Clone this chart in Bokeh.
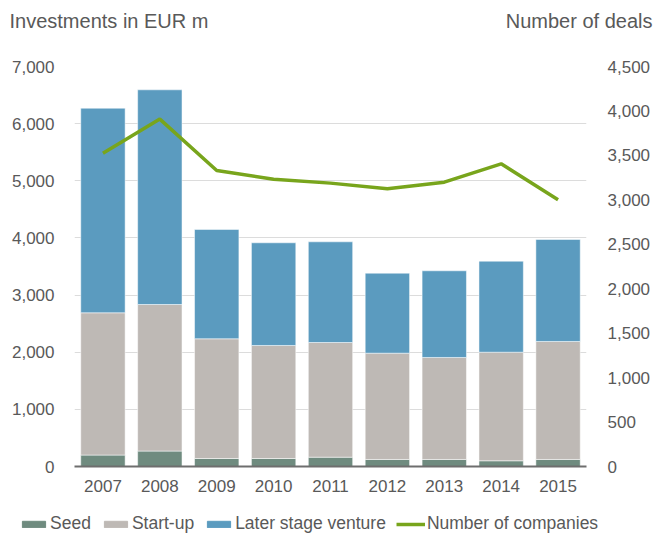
from bokeh.plotting import figure
from bokeh.layouts import column
from bokeh.models import (Range1d, LinearAxis, FixedTicker, NumeralTickFormatter,
                          Label, Legend, LegendItem, ColumnDataSource, FactorRange)
from bokeh.embed import file_html
from bokeh.resources import INLINE

years = ["2007", "2008", "2009", "2010", "2011", "2012", "2013", "2014", "2015"]
seed = [200, 270, 140, 140, 163, 123, 123, 100, 123]
startup = [2490, 2565, 2095, 1978, 2007, 1860, 1785, 1900, 2065]
later = [3580, 3757, 1913, 1797, 1762, 1400, 1517, 1593, 1785]
companies = [3525, 3908, 3330, 3232, 3188, 3124, 3199, 3405, 3000]

left_ticks = [0, 1000, 2000, 3000, 4000, 5000, 6000, 7000]
right_ticks = [0, 500, 1000, 1500, 2000, 2500, 3000, 3500, 4000, 4500]
series_names = ["Seed", "Start-up", "Later stage venture", "Number of companies"]

FONT = "Liberation Sans"
TXT = "#595959"
W = 653
colors = ["#6F8B7F", "#BEB9B5", "#5B9BBF"]
LINE_C = "#78A51C"

src = ColumnDataSource(dict(
    years=years, seed=seed, startup=startup, later=later, companies=companies,
))

# ---------- header with the two axis titles ----------
hdr = figure(width=W, height=40, x_range=Range1d(0, W), y_range=Range1d(0, 40),
             x_axis_type=None, y_axis_type=None, min_border=0,
             output_backend="svg", toolbar_location=None)
hdr.frame_align = False
hdr.outline_line_color = None
hdr.grid.visible = False
hdr.add_layout(Label(x=9, y=20, text="Investments in EUR m", text_font=FONT,
                     text_font_size="20px", text_color=TXT, text_align="left",
                     text_baseline="alphabetic"))
hdr.add_layout(Label(x=652, y=20, text="Number of deals", text_font=FONT,
                     text_font_size="20px", text_color=TXT, text_align="right",
                     text_baseline="alphabetic"))

# ---------- main chart ----------
p = figure(x_range=FactorRange(*years, range_padding=0), y_range=Range1d(0, 7000),
           width=W, height=470,
           min_border_left=74, min_border_right=58, min_border_top=26, min_border_bottom=44,
           output_backend="svg", toolbar_location=None)
p.frame_align = False
p.extra_y_ranges = {"deals": Range1d(0, 4500)}
p.outline_line_color = None

cols = ["seed", "startup", "later"]
p.vbar_stack(cols, x="years", width=0.78, source=src, color=colors,
             line_color="white", line_width=1, line_alpha=0.5)
p.line(x="years", y="companies", source=src, y_range_name="deals",
       line_color=LINE_C, line_width=3.5)

p.yaxis.ticker = FixedTicker(ticks=left_ticks)
p.yaxis.formatter = NumeralTickFormatter(format="0,0")
ya = p.yaxis[0]
ya.axis_line_color = None
ya.major_tick_line_color = None
ya.minor_tick_line_color = None
ya.major_label_standoff = 14
ra = LinearAxis(y_range_name="deals", ticker=FixedTicker(ticks=right_ticks),
                formatter=NumeralTickFormatter(format="0,0"))
ra.axis_line_color = None
ra.major_tick_line_color = None
ra.minor_tick_line_color = None
ra.major_label_standoff = 15
p.add_layout(ra, "right")

xa = p.xaxis[0]
xa.axis_line_color = "#6E6E6E"
xa.axis_line_width = 2
xa.major_tick_line_color = None
xa.minor_tick_line_color = None
xa.major_label_standoff = 7
p.xgrid.grid_line_color = None
p.ygrid.grid_line_color = "#DCDCDC"
p.ygrid.grid_line_width = 1.2
p.ygrid.ticker = FixedTicker(ticks=left_ticks[1:])

for ax in [xa, ya, ra]:
    ax.major_label_text_font = FONT
    ax.major_label_text_font_size = "17px"
    ax.major_label_text_color = TXT

# ---------- footer with the legend ----------
ftr = figure(width=W, height=25, x_range=Range1d(0, W), y_range=Range1d(0, 25),
             x_axis_type=None, y_axis_type=None, min_border=0,
             output_backend="svg", toolbar_location=None)
ftr.frame_align = False
ftr.outline_line_color = None
ftr.grid.visible = False
nan = float("nan")
proxy_src = ColumnDataSource(dict(x=[nan], y=[nan]))
proxies = [ftr.vbar(x="x", top="y", width=1, source=proxy_src, color=c) for c in colors]
proxies.append(ftr.line(x="x", y="y", source=proxy_src, line_color=LINE_C, line_width=3.5))

legend = Legend(items=[LegendItem(label=n, renderers=[r]) for n, r in zip(series_names, proxies)],
                location=(19, 1), orientation="horizontal")
legend.glyph_width = 29
legend.glyph_height = 8
legend.label_height = 17
legend.label_standoff = 2
legend.spacing = 10
legend.padding = 0
legend.margin = 0
legend.border_line_alpha = 0
legend.background_fill_alpha = 0
legend.label_text_font = FONT
legend.label_text_font_size = "17.5px"
legend.label_text_color = TXT
ftr.add_layout(legend, "center")

layout = column(hdr, p, ftr, spacing=0)
open("out.html", "w").write(file_html(layout, INLINE))
